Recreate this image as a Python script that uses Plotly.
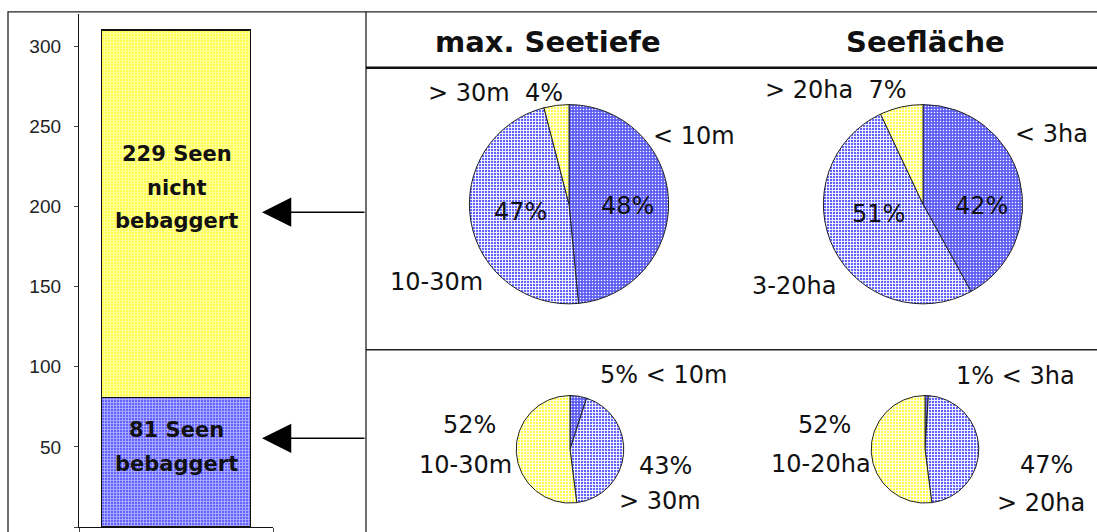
import plotly.graph_objects as go

# ---- data -------------------------------------------------------------
bar_groups = ["bebaggert", "nicht bebaggert"]
bar_counts = [81, 229]
y_ticks = [0, 50, 100, 150, 200, 250, 300]

col_titles = ["max. Seetiefe", "Seefläche"]

# top row: not dredged lakes (229)
depth_top_labels = ["< 10m", "10-30m", "> 30m"]
depth_top_values = [48, 47, 4]
area_top_labels = ["< 3ha", "3-20ha", "> 20ha"]
area_top_values = [42, 51, 7]

# bottom row: dredged lakes (81)
depth_bot_labels = ["< 10m", "> 30m", "10-30m"]
depth_bot_values = [5, 43, 52]
area_bot_labels = ["< 3ha", "> 20ha", "10-20ha"]
area_bot_values = [1, 47, 52]

W, H = 1097, 532


def px(x):
    return x / W


def py(y):
    return 1 - y / H


def esc(s):
    return s.replace("<", "&lt;").replace(">", "&gt;")


# fill styles (dithered look)
DARK = dict(shape=".", bgcolor="#5e5ef4", fgcolor="white", size=3, solidity=0.2)
LIGHT = dict(shape="+", bgcolor="#6262ff", fgcolor="white", size=3, solidity=0.5)
YELLOW = dict(shape="+", bgcolor="#ffff4c", fgcolor="white", size=3, solidity=0.5)

fig = go.Figure()

# ---- stacked bar -------------------------------------------------------
bar_styles = [LIGHT, YELLOW]
bar_fill = ["#a4a4f6", "#ffff99"]
for name, cnt, pat, fc in zip(bar_groups, bar_counts, bar_styles, bar_fill):
    fig.add_trace(go.Bar(
        x=[0.5], y=[cnt], width=0.768, name=name,
        marker=dict(color=fc, pattern=pat, line=dict(color="#111", width=1.2)),
        showlegend=False, hoverinfo="skip",
    ))

fig.update_layout(
    barmode="stack",
    xaxis=dict(domain=[px(79), px(273)], range=[0, 1], showline=True,
               linecolor="#111", linewidth=1.3, ticks="outside", ticklen=5,
               tickvals=[0, 1], showticklabels=False, showgrid=False,
               zeroline=False, fixedrange=True),
    yaxis=dict(domain=[py(529), py(14)], range=[0, 320], showline=True,
               linecolor="#111", linewidth=1.3, ticks="outside", ticklen=4,
               tickvals=y_ticks, showgrid=False, zeroline=False,
               tickfont=dict(family="Liberation Sans", size=19, color="#222"),
               ticklabelstandoff=9),
)

# ---- pies --------------------------------------------------------------
pies = [
    (depth_top_labels, depth_top_values, [DARK, LIGHT, YELLOW], (569, 205), 100),
    (area_top_labels, area_top_values, [DARK, LIGHT, YELLOW], (923, 205), 100),
    (depth_bot_labels, depth_bot_values, [DARK, LIGHT, YELLOW], (570, 451), 54),
    (area_bot_labels, area_bot_values, [DARK, LIGHT, YELLOW], (925, 451), 54),
]
solid = {id(DARK): "#7878f6", id(LIGHT): "#a8a8ff", id(YELLOW): "#ffff99"}
for labels, values, pats, (cx, cy), r in pies:
    fig.add_trace(go.Pie(
        labels=labels, values=values, sort=False, direction="clockwise",
        rotation=0, textinfo="none", hoverinfo="label+value",
        marker=dict(colors=[solid[id(p)] for p in pats],
                    pattern=dict(shape=[p["shape"] for p in pats],
                                 bgcolor=[p["bgcolor"] for p in pats],
                                 fgcolor="white", size=3,
                                 solidity=[p["solidity"] for p in pats]),
                    line=dict(color="#222", width=1)),
        domain=dict(x=[px(cx - r), px(cx + r)], y=[py(cy + r), py(cy - r)]),
        showlegend=False,
    ))

# ---- text --------------------------------------------------------------
ann = []
LBL = dict(family="DejaVu Sans", size=24, color="#111")


def text(x, y, s, font=LBL):
    ann.append(dict(x=px(x), y=py(y), xref="paper", yref="paper", text=esc(s),
                    showarrow=False, font=font, xanchor="center", yanchor="middle"))


TITLE = dict(family="DejaVu Sans", size=29, color="#111", weight="bold")
text(548, 42, col_titles[0], TITLE)
text(925, 42, col_titles[1], TITLE)

# top-left: max. Seetiefe
text(495, 93, f"{depth_top_labels[2]}\u00a0\u00a0{depth_top_values[2]}%")
text(694, 137, depth_top_labels[0])
text(627, 207, f"{depth_top_values[0]}%")
text(520, 213, f"{depth_top_values[1]}%")
text(436, 283, depth_top_labels[1])

# top-right: Seefläche
text(836, 90, f"{area_top_labels[2]}\u00a0\u00a0{area_top_values[2]}%")
text(1051, 135, area_top_labels[0])
text(981, 207, f"{area_top_values[0]}%")
text(878, 215, f"{area_top_values[1]}%")
text(794, 287, area_top_labels[1])

# bottom-left
text(663, 376, f"{depth_bot_values[0]}% {depth_bot_labels[0]}")
text(469, 427, f"{depth_bot_values[2]}%")
text(465, 467, depth_bot_labels[2])
text(665, 468, f"{depth_bot_values[1]}%")
text(660, 503, depth_bot_labels[1])

# bottom-right
text(1015, 377, f"{area_bot_values[0]}% {area_bot_labels[0]}")
text(824, 427, f"{area_bot_values[2]}%")
text(821, 466, area_bot_labels[2])
text(1046, 467, f"{area_bot_values[1]}%")
text(1041, 505, area_bot_labels[1])

# bar labels
BOLD = dict(family="DejaVu Sans", size=21, color="#111", weight="bold")
upper = [f"{bar_counts[1]} Seen", "nicht", "bebaggert"]
for s, yy in zip(upper, [155, 189, 222]):
    text(176.5, yy, s, BOLD)
lower = [f"{bar_counts[0]} Seen", "bebaggert"]
for s, yy in zip(lower, [432, 466]):
    text(176.5, yy, s, BOLD)

# arrows from the pie rows to the bar
for yy in (213, 440):
    ann.append(dict(x=px(262), y=py(yy), xref="paper", yref="paper", text="",
                    showarrow=True, ax=104, ay=0, arrowhead=2, arrowsize=3.9,
                    arrowwidth=1.5, arrowcolor="#000", standoff=0))

# ---- frame lines -------------------------------------------------------
shapes = [
    dict(type="rect", xref="paper", yref="paper", x0=px(8), x1=px(366),
         y0=-0.05, y1=py(12), line=dict(color="#222", width=1.3)),
    dict(type="line", xref="paper", yref="paper", x0=px(366), x1=1.01,
         y0=py(12), y1=py(12), line=dict(color="#222", width=1.3)),
    dict(type="line", xref="paper", yref="paper", x0=px(366), x1=1.01,
         y0=py(68), y1=py(68), line=dict(color="#111", width=2.6)),
    dict(type="line", xref="paper", yref="paper", x0=px(366), x1=1.01,
         y0=py(351), y1=py(351), line=dict(color="#222", width=1.5)),
]

fig.update_layout(
    width=W, height=H, margin=dict(l=0, r=0, t=0, b=0),
    paper_bgcolor="white", plot_bgcolor="white",
    annotations=ann, shapes=shapes,
)

fig.write_html("out.html")
